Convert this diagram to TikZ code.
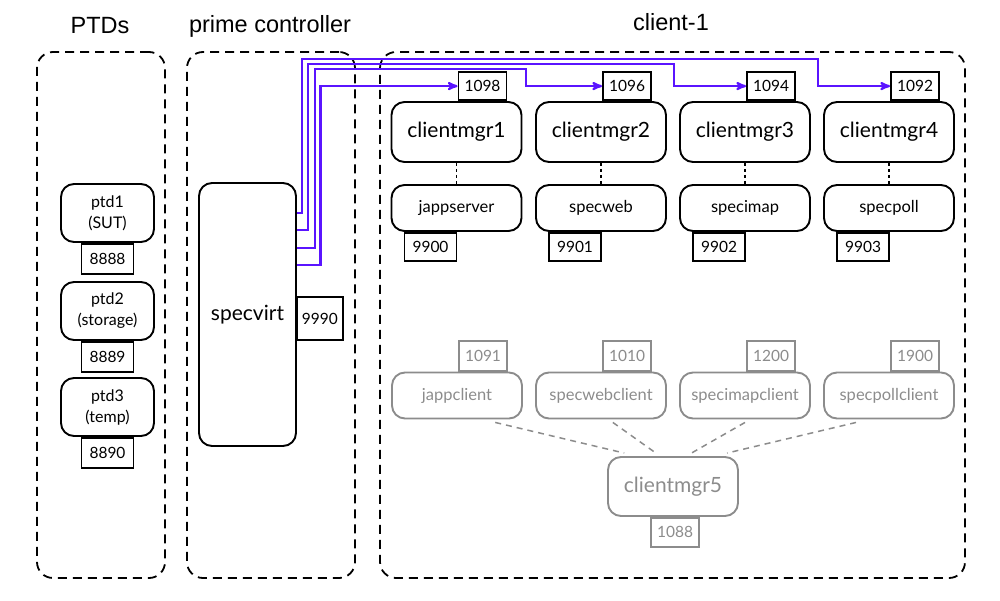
\documentclass[tikz,border=0pt]{standalone}
\usepackage{fontspec}
\setmainfont{Lato}
\newfontfamily\headfont{Liberation Sans}
\usepackage{tikz}
\usetikzlibrary{arrows,calc}

\definecolor{linkblue}{RGB}{90,20,255}
\colorlet{ghost}{black!45}

\tikzset{
  group/.style={draw, dashed, dash pattern=on 9pt off 6pt, line width=1.8pt,
    rounded corners=16pt, inner sep=0pt},
  head/.style={font=\headfont\fontsize{23.5}{26}\selectfont},
  box/.style={draw, rounded corners=13pt, line width=1.9pt, inner sep=0pt,
    minimum width=130pt, align=center},
  mgr/.style={box, minimum height=60pt, font=\fontsize{21}{23}\selectfont},
  srv/.style={box, minimum height=46pt, font=\fontsize{16.5}{18}\selectfont},
  port/.style={draw, line width=1.9pt, inner sep=0pt, minimum width=48pt,
    minimum height=28pt, font=\fontsize{15.5}{17}\selectfont, fill=white},
  link/.style={draw=linkblue, line width=2.2pt, ->, >=stealth'},
  tie/.style={line width=1.9pt, dash pattern=on 3pt off 3pt},
}

\begin{document}
\begin{tikzpicture}[x=1pt,y=-1pt]
\useasboundingbox (0,0) rectangle (1000,600);

% containers and titles
\node[group, minimum width=128pt, minimum height=526pt] (ptds) at (101,315) {};
\node[group, minimum width=168pt, minimum height=526pt] (prime) at (271,315) {};
\node[group, minimum width=585pt, minimum height=526pt] (client) at (672.5,315) {};
\node[head] (tptds) at (100,26) {PTDs};
\node[head] (tprime) at (270,26) {prime controller};
\node[head] (tclient) at (671,22) {client-1};

% PTDs
\node[box, minimum width=93pt, minimum height=58pt, font=\fontsize{16}{21}\selectfont] (ptd1) at (107.5,213) {ptd1\\(SUT)};
\node[port, minimum width=52pt, minimum height=30pt, anchor=north] (p8888) at (ptd1.south) {8888};
\node[box, minimum width=93pt, minimum height=58pt, font=\fontsize{16}{21}\selectfont] (ptd2) at (107.5,311) {ptd2\\(storage)};
\node[port, minimum width=52pt, minimum height=30pt, anchor=north] (p8889) at (ptd2.south) {8889};
\node[box, minimum width=93pt, minimum height=58pt, font=\fontsize{16}{21}\selectfont] (ptd3) at (107.5,407) {ptd3\\(temp)};
\node[port, minimum width=52pt, minimum height=30pt, anchor=north] (p8890) at (ptd3.south) {8890};

% prime controller
\node[box, minimum width=97pt, minimum height=263pt, font=\fontsize{21}{23}\selectfont] (specvirt) at (247.5,314.5) {specvirt};
\node[port, minimum width=46pt, minimum height=43pt, anchor=west] (p9990) at (296,318.5) {9990};

% client managers and servers
\node[mgr] (cm1) at (456.5,132) {clientmgr1};
\node[mgr] (cm2) at (601,132) {clientmgr2};
\node[mgr] (cm3) at (745,132) {clientmgr3};
\node[mgr] (cm4) at (889,132) {clientmgr4};
\node[port, anchor=south east, xshift=-15pt] (p1098) at (cm1.north east) {1098};
\node[port, anchor=south east, xshift=-15pt] (p1096) at (cm2.north east) {1096};
\node[port, anchor=south east, xshift=-15pt] (p1094) at (cm3.north east) {1094};
\node[port, anchor=south east, xshift=-15pt] (p1092) at (cm4.north east) {1092};

\node[srv] (jappserver) at (456.5,208) {jappserver};
\node[srv] (specweb) at (601,208) {specweb};
\node[srv] (specimap) at (745,208) {specimap};
\node[srv] (specpoll) at (889,208) {specpoll};
\node[port, minimum width=52pt, anchor=north west, xshift=13pt] (p9900) at (jappserver.south west) {9900};
\node[port, minimum width=52pt, anchor=north west, xshift=13pt] (p9901) at (specweb.south west) {9901};
\node[port, minimum width=52pt, anchor=north west, xshift=13pt] (p9902) at (specimap.south west) {9902};
\node[port, minimum width=52pt, anchor=north west, xshift=13pt] (p9903) at (specpoll.south west) {9903};

\draw[tie] (cm1) -- (jappserver);
\draw[tie] (cm2) -- (specweb);
\draw[tie] (cm3) -- (specimap);
\draw[tie] (cm4) -- (specpoll);

% links from specvirt
\draw[link] ($(specvirt.north east)+(0,31)$) -| (302,59) -| ([xshift=-72pt]p1092.west) -- (p1092.west);
\draw[link] ($(specvirt.north east)+(0,48)$) -| (308,64) -| ([xshift=-72pt]p1094.west) -- (p1094.west);
\draw[link] ($(specvirt.north east)+(0,66)$) -| (315,69) -| ([xshift=-76pt]p1096.west) -- (p1096.west);
\draw[link] ($(specvirt.north east)+(0,83)$) -| ([xshift=-137pt]p1098.west) -- (p1098.west);

% load clients (greyed out)
\begin{scope}[every node/.append style={draw=ghost, text=ghost}]
\node[srv] (jappclient) at (457,395.5) {jappclient};
\node[srv] (specwebclient) at (601,395.5) {specwebclient};
\node[srv] (specimapclient) at (745,395.5) {specimapclient};
\node[srv] (specpollclient) at (889,395.5) {specpollclient};
\node[port, minimum height=30pt, anchor=south east, xshift=-15pt] (p1091) at (jappclient.north east) {1091};
\node[port, minimum height=30pt, anchor=south east, xshift=-15pt] (p1010) at (specwebclient.north east) {1010};
\node[port, minimum height=30pt, anchor=south east, xshift=-15pt] (p1200) at (specimapclient.north east) {1200};
\node[port, minimum height=30pt, anchor=south east, xshift=-15pt] (p1900) at (specpollclient.north east) {1900};
\node[mgr, minimum height=59pt] (cm5) at (673,486.5) {clientmgr5};
\node[port, minimum height=29pt, anchor=north, xshift=2pt] (p1088) at (cm5.south) {1088};
\end{scope}

\begin{scope}[draw=ghost, line width=1.5pt, dash pattern=on 6pt off 5pt]
\draw ($(jappclient.south west)!0.79!(jappclient.south east)+(0,3)$) -- ($(cm5.north west)!0.13!(cm5.north east)+(0,-3)$);
\draw ($(specwebclient.south west)!0.59!(specwebclient.south east)+(0,3)$) -- ($(cm5.north west)!0.37!(cm5.north east)+(0,-3)$);
\draw ($(specimapclient.south west)!0.5!(specimapclient.south east)+(0,3)$) -- ($(cm5.north west)!0.64!(cm5.north east)+(0,-3)$);
\draw ($(specpollclient.south west)!0.25!(specpollclient.south east)+(0,3)$) -- ($(cm5.north west)!0.91!(cm5.north east)+(0,-3)$);
\end{scope}

\end{tikzpicture}
\end{document}
